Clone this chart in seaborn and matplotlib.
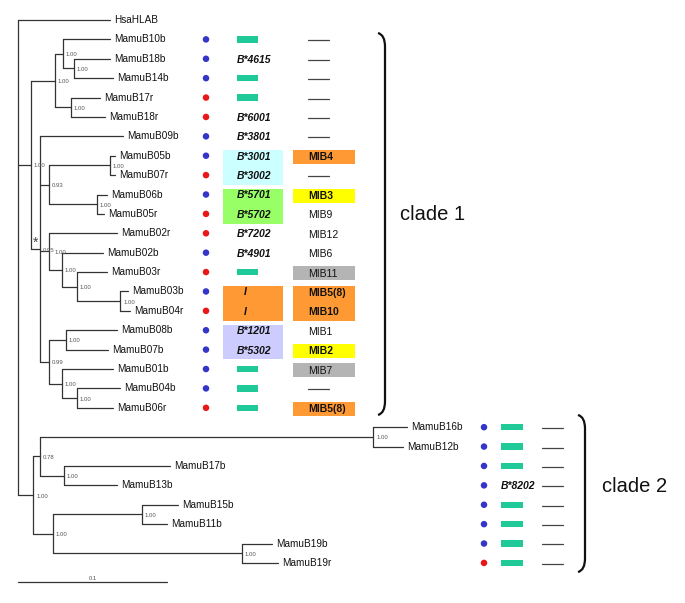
import matplotlib
matplotlib.use("Agg")
import matplotlib.pyplot as plt
from matplotlib.patches import Rectangle, PathPatch
from matplotlib.path import Path
import seaborn as sns
import pandas as pd

# tree: branch lengths (subst./site) and support values
newick = ("(HsaHLAB:0.0617,"
          "(((MamuB10b:0.0315,(MamuB18b:0.0241,MamuB14b:0.0262)1.00:0.0074)1.00:0.0054,"
          "(MamuB17r:0.0194,MamuB18r:0.0228)1.00:0.0108)1.00:0.0161,"
          "(MamuB09b:0.0557,"
          "((MamuB05b:0.0034,MamuB07r:0.0034)1.00:0.0409,(MamuB06b:0.0067,MamuB05r:0.0047)1.00:0.0322)0.93:0.0060,"
          "(MamuB02r:0.0456,(MamuB02b:0.0275,(MamuB03r:0.0201,(MamuB03b:0.0053,MamuB04r:0.0067)1.00:0.0289)1.00:0.0101)1.00:0.0087)1.00:0.0060,"
          "((MamuB08b:0.0342,MamuB07b:0.0282)1.00:0.0114,(MamuB01b:0.0343,(MamuB04b:0.0289,MamuB06r:0.0242)1.00:0.0101)1.00:0.0087)0.99:0.0060"
          ")0.95:0.0061)1.00:0.0087,"
          "(((MamuB16b:0.0228,MamuB12b:0.0201)1.00:0.2235,(MamuB17b:0.0711,MamuB13b:0.0355)1.00:0.0161)0.78:0.0047,"
          "((MamuB15b:0.0242,MamuB11b:0.0168)1.00:0.0597,(MamuB19b:0.0202,MamuB19r:0.0242)1.00:0.1268)1.00:0.0134)1.00:0.0101);")

# annotation columns for rows 1..28 ('=' green bar, '-' dash)
alleles = ['=', 'B*4615', '=', '=', 'B*6001', 'B*3801', 'B*3001', 'B*3002', 'B*5701', 'B*5702',
           'B*7202', 'B*4901', '=', 'I', 'I', 'B*1201', 'B*5302', '=', '=', '=',
           '=', '=', '=', 'B*8202', '=', '=', '=', '=']
mibs = ['-', '-', '-', '-', '-', '-', 'MIB4', '-', 'MIB3', 'MIB9',
        'MIB12', 'MIB6', 'MIB11', 'MIB5(8)', 'MIB10', 'MIB1', 'MIB2', 'MIB7', '-', 'MIB5(8)',
        '-', '-', '-', '-', '-', '-', '-', '-']
allele_groups = [(7, 8, 'cyan'), (9, 10, 'lime'), (14, 15, 'orange'), (16, 17, 'lavender')]
mib_groups = [(7, 7, 'orange'), (9, 9, 'yellow'), (13, 13, 'grey'), (14, 15, 'orange'),
              (17, 17, 'yellow'), (18, 18, 'grey'), (20, 20, 'orange')]
clade_names = ['clade 1', 'clade 2']
clade_rows = [(1, 20), (21, 28)]

box_colors = {'cyan': '#ccffff', 'lime': '#99ff66', 'orange': '#ff9933',
              'lavender': '#ccccff', 'yellow': '#ffff00', 'grey': '#b4b4b4'}
dot_colors = {'b': '#3535c8', 'r': '#e81818'}
bar_color = '#1fca98'


def parse(s):
    pos = [0]

    def node():
        n = {'children': [], 'name': '', 'len': 0.0}
        if s[pos[0]] == '(':
            pos[0] += 1
            while True:
                n['children'].append(node())
                c = s[pos[0]]
                pos[0] += 1
                if c == ')':
                    break
        start = pos[0]
        while s[pos[0]] not in ',();':
            pos[0] += 1
        lab = s[start:pos[0]]
        if ':' in lab:
            lab, ln = lab.split(':')
            n['len'] = float(ln)
        n['name'] = lab
        return n
    return node()


tree = parse(newick)
tips = []


def layout(n, x0):
    n['x'] = x0 + n['len']
    if not n['children']:
        n['y'] = len(tips)
        tips.append(n)
    else:
        for c in n['children']:
            layout(c, n['x'])
        n['y'] = (n['children'][0]['y'] + n['children'][-1]['y']) / 2


layout(tree, 0.0)

PX = 1490.0   # pixels per unit branch length
ROW = 19.39   # pixels per row


def px(v):
    return (v - 18) / PX


sns.set_theme(style='white')
plt.rcParams['font.family'] = ['Liberation Sans', 'DejaVu Sans']

fig = plt.figure(figsize=(6.85, 6.03), dpi=100)
ax = fig.add_axes([0, 0, 1, 1])
ax.set_xlim(px(0), px(685))
ax.set_ylim((603 - 20) / ROW, -20 / ROW)
ax.axis('off')

lc = '#333333'


def draw(n, parent_label=''):
    if n['children']:
        ax.plot([n['x'], n['x']], [n['children'][0]['y'], n['children'][-1]['y']], color=lc, lw=0.9)
        for c in n['children']:
            ax.plot([n['x'], c['x']], [c['y'], c['y']], color=lc, lw=0.9)
            draw(c, n['name'])
        if n['name']:
            # the star node's own label sits where a child's would; nudge that child's
            shift = 6 if (parent_label == '0.95' and abs(n['y'] - 11.94) < 0.1) else 3
            ax.text(n['x'] + shift / PX, n['y'] + 0.05, n['name'], fontsize=4.3, color='#555555',
                    ha='left', va='center')
            if n['name'] == '0.95':
                ax.text(n['x'] - 4.5 / PX, n['y'] - 0.3, '*', fontsize=10, color='#444444',
                        ha='center', va='center')
    elif n['name']:
        ax.text(n['x'] + 4 / PX, n['y'], n['name'], fontsize=7.2, color='#111111',
                ha='left', va='center')


draw(tree)

# scale bar
sb_y = (582 - 20) / ROW
ax.plot([0, 0.1], [sb_y, sb_y], color=lc, lw=0.9)
ax.text(0.05, sb_y - 0.05, '0.1', fontsize=4.2, color='#555555', ha='center', va='bottom')

# column positions per clade (pixels)
cols = [dict(dot=206, bar=248, allele=254, box=253, dash=308, mib=308, mibbox=324, brace=378, label=400),
        dict(dot=484, bar=512, allele=518, box=518, dash=542, mib=542, mibbox=552, brace=578, label=602)]


def clade_of(r):
    for i, (a, b) in enumerate(clade_rows):
        if a <= r <= b:
            return i
    return 0


for a, b, key in allele_groups:
    c = cols[clade_of(a)]
    ax.add_patch(Rectangle((px(c['box'] - 30), a - 0.27), 60 / PX, b - a + 0.77,
                           facecolor=box_colors[key], edgecolor='none', zorder=1))
for a, b, key in mib_groups:
    c = cols[clade_of(a)]
    if a == b:
        y0, h = a - 0.3, 0.72
    else:
        y0, h = a - 0.27, b - a + 0.77
    ax.add_patch(Rectangle((px(c['mibbox'] - 31), y0), 62 / PX, h,
                           facecolor=box_colors[key], edgecolor='none', zorder=1))

bold_mib = set()
for a, b, key in mib_groups:
    if key in ('orange', 'yellow'):
        bold_mib.update(range(a, b + 1))

dots = pd.DataFrame({
    'x': [px(cols[clade_of(t['y'])]['dot']) for t in tips[1:]],
    'y': [t['y'] for t in tips[1:]],
    'origin': [t['name'][-1] for t in tips[1:]],
})
sns.scatterplot(data=dots, x='x', y='y', hue='origin', palette=dot_colors, s=22,
                edgecolor='none', legend=False, ax=ax, zorder=3)

for i, (al, mb) in enumerate(zip(alleles, mibs)):
    r = i + 1
    c = cols[clade_of(r)]
    if al == '=':
        ax.add_patch(Rectangle((px(c['bar'] - 10.5), r - 0.16), 21 / PX, 0.33,
                               facecolor=bar_color, edgecolor='none', zorder=2))
    else:
        xa = c['allele'] - 9 if al == 'I' else c['allele']
        ax.text(px(xa), r + 0.05, al, fontsize=7.5, fontweight='bold', fontstyle='italic',
                ha='center', va='center', color='#111111', zorder=4)
    if mb == '-':
        ax.plot([px(c['dash']), px(c['dash'] + 21)], [r + 0.05, r + 0.05], color='#444444', lw=0.9)
    else:
        ax.text(px(c['mib']), r + 0.08, mb, fontsize=7.5,
                fontweight='bold' if r in bold_mib else 'normal',
                ha='left', va='center', color='#111111', zorder=4)

# clade braces
pads = [(0.33, 0.37), (0.63, 0.47)]
for i, ((a, b), name) in enumerate(zip(clade_rows, clade_names)):
    c = cols[i]
    x0 = px(c['brace'])
    x1 = px(c['brace'] + 7)
    y0 = a - pads[i][0]
    y1 = b + pads[i][1]
    k = 0.7
    verts = [(x0, y0), (x1, y0 + 0.1), (x1, y0 + k), (x1, y1 - k), (x1, y1 - 0.1), (x0, y1)]
    codes = [Path.MOVETO, Path.CURVE3, Path.CURVE3, Path.LINETO, Path.CURVE3, Path.CURVE3]
    ax.add_patch(PathPatch(Path(verts, codes), facecolor='none', edgecolor='#111111', lw=1.6))
    ax.text(px(c['label']), (a + b) / 2 - 0.45, name, fontsize=14.5, ha='left', va='center',
            color='#111111')

fig.savefig('out.png', dpi=100)
